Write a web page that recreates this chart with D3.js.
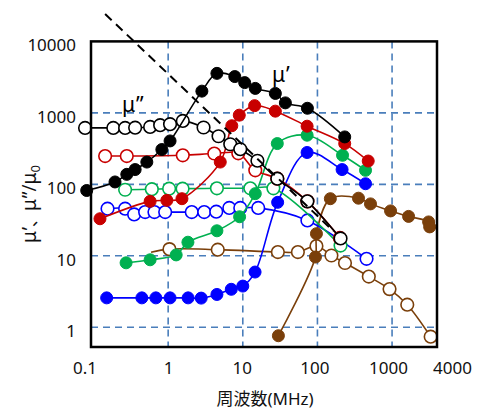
<!DOCTYPE html>
<html><head><meta charset="utf-8">
<script src="https://cdn.jsdelivr.net/npm/d3@7"></script>
<style>body{margin:0;background:#fff}svg{display:block}</style>
</head><body>
<script>
// ---- data (frequency in MHz, value = relative permeability) ----
const xTicks = [0.1, 1, 10, 100, 1000, 4000];
const yTicks = [1, 10, 100, 1000, 10000];
const gridX = [1, 10, 100, 1000];
const gridY = [1, 10, 100, 1000];

const blackFilledF = [0.081, 0.194, 0.279, 0.361, 0.518, 0.823, 1.06, 2.83, 4.5, 7.81, 10.6, 14.7, 27.3, 37.2, 73.4, 232];
const blackFilledV = [82, 108, 138, 161, 205, 307, 405, 2015, 3570, 3220, 2650, 2200, 1870, 1380, 1160, 461];
const blackOpenF = [0.077, 0.184, 0.265, 0.361, 0.573, 0.781, 1.06, 1.57, 2.98, 4.73, 6.79, 9.25, 15.7, 29.0, 73.4, 204];
const blackOpenV = [616, 616, 616, 621, 636, 672, 695, 772, 624, 471, 364, 310, 214, 120, 57.8, 17.5];

const redFilledF = [0.122, 0.573, 0.96, 1.53, 4.99, 7.12, 8.97, 14.4, 27.3, 72.7, 232, 479];
const redFilledV = [33.0, 57.8, 59.7, 63.0, 205, 661, 929, 1262, 1057, 651, 372, 212];
const redOpenF = [0.143, 0.279, 1.57, 4.15, 8.7, 14.7, 29.0, 73.4, 200];
const redOpenV = [249, 249, 255, 270, 272, 157, 120, 57.8, 17.8];

const greenFilledF = [0.273, 0.573, 1.28, 1.84, 4.5, 9.06, 14.7, 29.0, 72.7, 217, 441];
const greenFilledV = [7.98, 8.8, 10.3, 15.5, 22.4, 35.2, 74.1, 372, 487, 255, 157];
const greenOpenF = [0.265, 0.604, 1.03, 1.56, 4.5, 12.6, 25.7, 204];
const greenOpenV = [84, 85.5, 87, 87, 88, 88, 88, 13.9];

const blueFilledF = [0.150, 0.444, 0.684, 1.06, 1.85, 2.77, 4.5, 7.01, 10.0, 14.6, 29.3, 72.7, 214, 441];
const blueFilledV = [2.58, 2.58, 2.58, 2.58, 2.58, 2.56, 2.88, 3.40, 3.77, 5.93, 56, 279, 161, 102];
const blueOpenF = [0.154, 0.265, 0.350, 0.491, 0.655, 0.912, 2.07, 3.04, 4.41, 6.59, 9.25, 16.1, 73.4, 455];
const blueOpenV = [45.6, 45.6, 37.9, 40.9, 40.9, 40.9, 40.9, 40.9, 41.4, 46.8, 46.8, 46.8, 31.3, 9.08];

const brownFilledF = [30.0, 94, 97, 149, 355, 514, 955, 1665, 3090, 3190];
const brownFilledV = [0.762, 9.62, 20.4, 63, 64, 53.3, 42.5, 35.6, 29.8, 25.4];
const brownOpenF = [0.59, 1.04, 4.62, 29.5, 54.7, 97, 154, 234, 488, 925, 1598, 3290];
const brownOpenV = [11.2, 12.4, 12.2, 11.3, 11.3, 13.7, 10.1, 7.93, 5.13, 3.42, 2.07, 0.738];
const brownOpenMarkerFrom = 1; // line starts before first marker

const dashedF = [0.143, 165];
const dashedV = [24200, 22];

// ---- layout ----
const W = 490, H = 417;
const L = 91, R = 437, T = 41.4, B = 347;
const svg = d3.select("body").append("svg").attr("width", W).attr("height", H);

const x = d3.scaleLog().domain([0.0925, 4000]).range([L, R]);
const y = d3.scaleLog().domain([0.53, 10000]).range([B, T]);

const gridColor = "#4a7ebb";
const g = svg.append("g");
g.selectAll(".gx").data(gridX).join("line")
  .attr("x1", d => x(d)).attr("x2", d => x(d)).attr("y1", T).attr("y2", B)
  .attr("stroke", gridColor).attr("stroke-width", 1.6).attr("stroke-dasharray", "7,5");
g.selectAll(".gy").data(gridY).join("line")
  .attr("x1", L).attr("x2", R).attr("y1", d => y(d)).attr("y2", d => y(d))
  .attr("stroke", gridColor).attr("stroke-width", 1.6).attr("stroke-dasharray", "7,5");

const font = "'Noto Sans', 'Noto Sans CJK JP', sans-serif";

// axes
const xDx = [-9, 0, -1, -3, -4, 15];
const xa = svg.append("g").attr("transform", `translate(0,${B})`)
  .call(d3.axisBottom(x).tickValues(xTicks).tickFormat(d => String(d)).tickSize(0).tickPadding(15));
xa.select(".domain").remove();
xa.selectAll("text").attr("font-family", font).attr("font-size", 17).attr("fill", "#111")
  .attr("dx", (d, i) => xDx[i]);

const ya = svg.append("g").attr("transform", `translate(${L},0)`)
  .call(d3.axisLeft(y).tickValues(yTicks).tickFormat(d => String(d)).tickSize(0).tickPadding(15));
ya.select(".domain").remove();
ya.selectAll("text").attr("font-family", font).attr("font-size", 17).attr("fill", "#111").attr("dy", "0.55em");

// series
const line = d3.line().x(d => x(d[0])).y(d => y(d[1])).curve(d3.curveCatmullRom.alpha(0.5));
const plot = svg.append("g");
function series(F, V, color, filled, markerFrom = 0) {
  const pts = F.map((f, i) => [f, V[i]]);
  plot.append("path").attr("d", line(pts)).attr("fill", "none")
    .attr("stroke", color).attr("stroke-width", 1.6);
  plot.append("g").selectAll("circle").data(pts.slice(markerFrom)).join("circle")
    .attr("cx", d => x(d[0])).attr("cy", d => y(d[1]))
    .attr("r", filled ? 6 : 6.3)
    .attr("fill", filled ? color : "#fff")
    .attr("stroke", color).attr("stroke-width", filled ? 1 : 1.6);
}
const brown = "#7a3f0a", blue = "#0000ff", green = "#00b050", red = "#c80000", black = "#000";
series(brownOpenF, brownOpenV, brown, false, brownOpenMarkerFrom);
series(brownFilledF, brownFilledV, brown, true);
series(blueOpenF, blueOpenV, blue, false);
series(blueFilledF, blueFilledV, blue, true);
series(greenOpenF, greenOpenV, green, false);
series(greenFilledF, greenFilledV, green, true);
series(redOpenF, redOpenV, red, false);
series(redFilledF, redFilledV, red, true);
series(blackOpenF, blackOpenV, black, false);
series(blackFilledF, blackFilledV, black, true);

// dashed guide line
svg.append("line")
  .attr("x1", x(dashedF[0])).attr("y1", y(dashedV[0]))
  .attr("x2", x(dashedF[1])).attr("y2", y(dashedV[1]))
  .attr("stroke", "#000").attr("stroke-width", 2).attr("stroke-dasharray", "9,6");

// frame
svg.append("rect").attr("x", L).attr("y", T).attr("width", R - L).attr("height", B - T)
  .attr("fill", "none").attr("stroke", "#000").attr("stroke-width", 2.5);

// annotations
svg.append("text").attr("x", 272).attr("y", 82).attr("font-family", font).attr("font-size", 21).text("μ’");
svg.append("text").attr("x", 122).attr("y", 112).attr("font-family", font).attr("font-size", 21).text("μ”");

// axis titles
svg.append("text").attr("x", 265).attr("y", 405).attr("text-anchor", "middle")
  .attr("font-family", font).attr("font-size", 17).attr("fill", "#111").text("周波数(MHz)");
const yt = svg.append("text").attr("transform", "translate(36,204) rotate(-90)")
  .attr("text-anchor", "middle").attr("font-family", "'Noto Sans', sans-serif").attr("font-size", 19).attr("fill", "#111");
yt.append("tspan").text("μ’");
yt.append("tspan").attr("font-family", "'Noto Sans CJK JP', sans-serif").attr("font-size", 16).text("、");
yt.append("tspan").text("μ”/μ");
yt.append("tspan").attr("font-size", 13).attr("dy", 4).text("0");
</script>
</body></html>
